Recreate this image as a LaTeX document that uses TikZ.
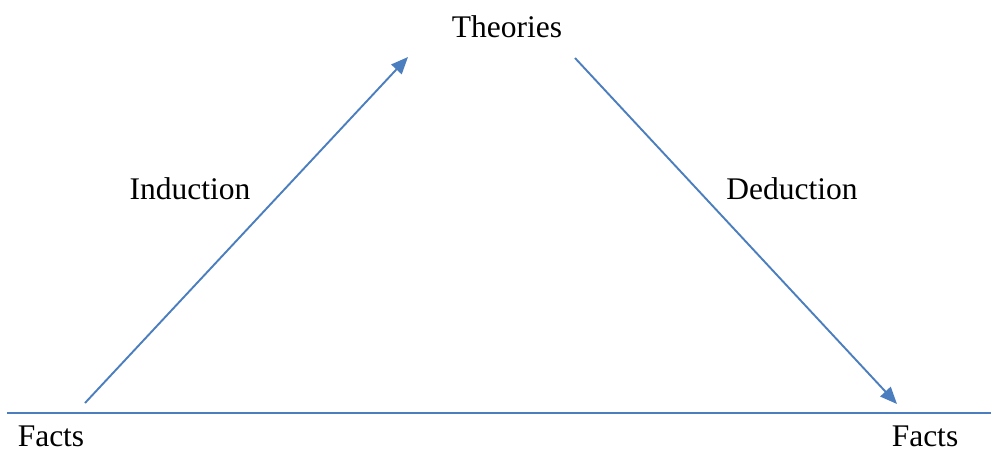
\documentclass[tikz,border=0pt]{standalone}
\usepackage{fontspec}
\setmainfont{Liberation Serif}
\usetikzlibrary{arrows.meta}
\definecolor{lineblue}{RGB}{74,126,190}
\begin{document}
\begin{tikzpicture}[x=1pt,y=-1pt,
  conn/.style={draw=lineblue,line width=1.9pt},
  arr/.style={conn,-{Triangle[length=17pt,width=14pt]}},
  lbl/.style={font=\fontsize{31.5}{37}\selectfont,inner sep=0pt,anchor=base}]
\useasboundingbox (0,0) rectangle (991,451);
\coordinate (lineL) at (7,413);
\coordinate (lineR) at (991,413);
\coordinate (indS) at (85,403);
\coordinate (indE) at (408,57);
\coordinate (dedS) at (575,58);
\coordinate (dedE) at (897,404);
\node[lbl] (theories) at (507,37) {Theories};
\node[lbl] (induction) at (190,199) {Induction};
\node[lbl] (deduction) at (792,199) {Deduction};
\node[lbl] (factsL) at (51,446) {Facts};
\node[lbl] (factsR) at (925,446) {Facts};
\draw[conn] (lineL) -- (lineR);
\draw[arr] (indS) -- (indE);
\draw[arr] (dedS) -- (dedE);
\end{tikzpicture}
\end{document}
